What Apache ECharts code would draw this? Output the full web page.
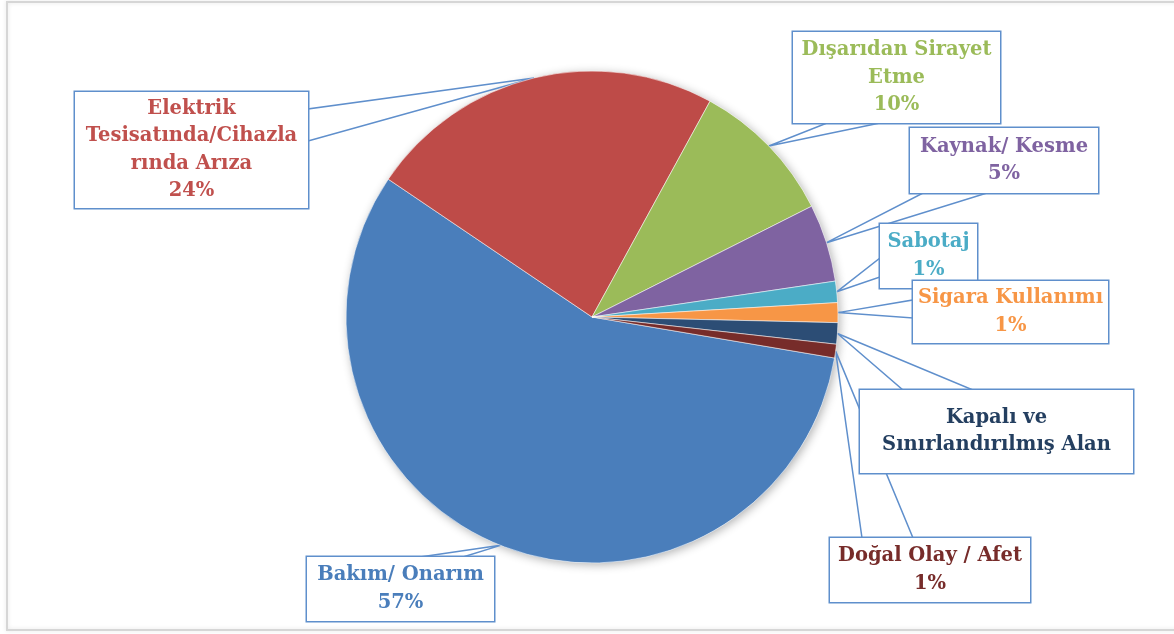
<!DOCTYPE html>
<html><head><meta charset="utf-8">
<script src="https://cdn.jsdelivr.net/npm/echarts@6/dist/echarts.min.js"></script>
<style>html,body{margin:0;padding:0;background:#fff;overflow:hidden}#c{width:1174px;height:634px}</style>
</head><body><div id="c"></div>
<script>
// ---- data ----
const categories = ['Bakım/ Onarım', 'Elektrik Tesisatında/Cihazlarında Arıza', 'Dışarıdan Sirayet Etme', 'Kaynak/ Kesme', 'Sabotaj', 'Sigara Kullanımı', 'Kapalı ve Sınırlandırılmış Alan', 'Doğal Olay / Afet'];
const labelTexts = [['Bakım/ Onarım'], ['Elektrik', 'Tesisatında/Cihazla', 'rında Arıza'], ['Dışarıdan Sirayet', 'Etme'], ['Kaynak/ Kesme'], ['Sabotaj'], ['Sigara Kullanımı'], ['Kapalı ve', 'Sınırlandırılmış Alan'], ['Doğal Olay / Afet']];
const values = [56.8, 23.5, 9.6, 5.1, 1.4, 1.3, 1.4, 0.9];
const percentLabels = ['57%', '24%', '10%', '5%', '1%', '1%', '', '1%'];

// ---- styles / layout ----
const sliceColors = ['#4a7ebb', '#be4b48', '#9bbb59', '#7f63a1', '#4bacc6', '#f79646', '#2c4d75', '#772c2a'];
const textColors = ['#4a7ebb', '#c0504d', '#9bbb59', '#7f63a1', '#4bacc6', '#f79646', '#243f60', '#772c2a'];
const boxes = [
  {x: 307, y: 557, w: 187, h: 64, base: [[420, 557], [463, 557]]},
  {x: 75, y: 92, w: 233, h: 116, base: [[308, 109], [308, 141]]},
  {x: 793, y: 32, w: 207, h: 91, base: [[827, 123], [880, 123]]},
  {x: 910, y: 128, w: 188, h: 65, base: [[923, 193], [987, 193]]},
  {x: 880, y: 224, w: 97, h: 64, base: [[880, 258], [880, 277]]},
  {x: 913, y: 281, w: 195, h: 62, base: [[913, 300], [913, 318]]},
  {x: 860, y: 390, w: 273, h: 83, base: [[903, 390], [973, 390]]},
  {x: 830, y: 538, w: 200, h: 64, base: [[862, 538], [913, 538]]}
];
const LH = 27.5;
const boxBlue = '#5f8fcc';

const chart = echarts.init(document.getElementById('c'), null, {renderer: 'canvas'});

const data = categories.map((name, i) => {
  const nLines = labelTexts[i].length + (percentLabels[i] ? 1 : 0);
  const spare = Math.max(0, boxes[i].h - nLines * LH);
  const bottom = Math.max(0, spare / 2 - 3.5);
  const top = spare - bottom;
  return {
    name: name,
    value: values[i],
    itemStyle: {color: sliceColors[i]},
    label: {
      color: textColors[i],
      width: boxes[i].w - 8,
      padding: [top, 4, bottom, 4]
    }
  };
});

function tipPoint(idx) {
  const lay = chart.getModel().getSeriesByIndex(1).getData().getItemLayout(idx);
  const mid = (lay.startAngle + lay.endAngle) / 2;
  return [lay.cx + lay.r * Math.cos(mid), lay.cy + lay.r * Math.sin(mid)];
}

chart.setOption({
  backgroundColor: '#ffffff',
  animation: false,
  graphic: [{
    type: 'polyline', silent: true, z: -10,
    shape: {points: [[1200, 2], [7, 2], [7, 630], [1200, 630]]},
    style: {fill: null, stroke: '#d6d6d6', lineWidth: 2, shadowBlur: 4, shadowColor: 'rgba(0,0,0,0.12)'}
  }],
  series: [{
    type: 'pie', silent: true, z: 1,
    center: [592, 317], radius: 246,
    startAngle: -9.6, clockwise: true,
    label: {show: false}, labelLine: {show: false},
    itemStyle: {color: '#ffffff', shadowBlur: 10, shadowOffsetX: 2, shadowOffsetY: 2, shadowColor: 'rgba(0,0,0,0.3)'},
    data: values.map(v => ({value: v}))
  }, {
    type: 'pie', z: 2,
    center: [592, 317], radius: 246,
    startAngle: -9.6, clockwise: true,
    avoidLabelOverlap: false,
    itemStyle: {borderColor: 'rgba(255,255,255,0.65)', borderWidth: 0.8},
    label: {
      show: true, position: 'outside',
      fontFamily: 'DejaVu Serif', fontWeight: 'bold', fontSize: 19.5, lineHeight: LH,
      overflow: 'none', align: 'center',
      backgroundColor: '#ffffff', borderColor: boxBlue, borderWidth: 1.5,
      formatter: p => labelTexts[p.dataIndex].concat(percentLabels[p.dataIndex] ? [percentLabels[p.dataIndex]] : []).join('\n')
    },
    labelLine: {show: true, lineStyle: {color: boxBlue, width: 1.5}},
    labelLayout: function (params) {
      const i = params.dataIndex;
      const b = boxes[i];
      let tip;
      try { tip = tipPoint(i); } catch (e) { tip = params.labelLinePoints ? params.labelLinePoints[0] : [b.x, b.y]; }
      return {
        x: b.x + b.w / 2,
        y: b.y + b.h / 2,
        align: 'center',
        verticalAlign: 'middle',
        labelLinePoints: [tip, b.base[0], b.base[1], tip]
      };
    },
    data: data
  }]
});
</script></body></html>
